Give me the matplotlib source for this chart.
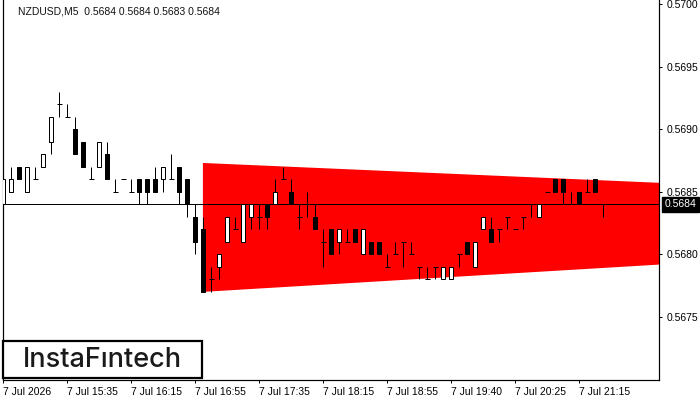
"""NZDUSD M5 candlestick chart with a red 'triangle' pattern zone (MT4 look)."""

import matplotlib
matplotlib.use("Agg")
import matplotlib.pyplot as plt
import numpy as np

# --- data (prices, 4 decimals) --------------------------------------------
opens = [0.5684, 0.5685, 0.5687, 0.5685, 0.5686, 0.5687, 0.5689, 0.5692, 0.5691, 0.5690,
         0.5689, 0.5686, 0.5687, 0.5688, 0.5685, 0.5686, 0.5685, 0.5686, 0.5686, 0.5686,
         0.5686, 0.5686, 0.5687, 0.5686, 0.5683, 0.5682, 0.5678, 0.5679, 0.5681, 0.5682,
         0.5681, 0.5683, 0.5683, 0.5684, 0.5684, 0.5686, 0.5685, 0.5683, 0.5684, 0.5683,
         0.5681, 0.5682, 0.5681, 0.5681, 0.5682, 0.5680, 0.5681, 0.5681, 0.5679, 0.5680,
         0.5681, 0.5680, 0.5679, 0.5678, 0.5679, 0.5678, 0.5678, 0.5680, 0.5681, 0.5679,
         0.5682, 0.5682, 0.5682, 0.5683, 0.5682, 0.5683, 0.5684, 0.5683, 0.5685, 0.5686,
         0.5686, 0.5684, 0.5685, 0.5685, 0.5686, 0.5684]
highs = [0.5687, 0.5687, 0.5687, 0.5687, 0.5687, 0.5688, 0.5691, 0.5693, 0.5692, 0.5691,
         0.5689, 0.5687, 0.5689, 0.5689, 0.5686, 0.5686, 0.5686, 0.5686, 0.5686, 0.5687,
         0.5687, 0.5688, 0.5687, 0.5686, 0.5684, 0.5683, 0.5679, 0.5680, 0.5683, 0.5683,
         0.5684, 0.5684, 0.5684, 0.5684, 0.5686, 0.5687, 0.5686, 0.5684, 0.5685, 0.5684,
         0.5682, 0.5682, 0.5682, 0.5682, 0.5682, 0.5682, 0.5681, 0.5681, 0.5680, 0.5681,
         0.5681, 0.5681, 0.5679, 0.5679, 0.5679, 0.5679, 0.5679, 0.5680, 0.5681, 0.5681,
         0.5683, 0.5683, 0.5682, 0.5683, 0.5682, 0.5683, 0.5684, 0.5684, 0.5685, 0.5686,
         0.5686, 0.5685, 0.5685, 0.5686, 0.5686, 0.5684]
lows = [0.5684, 0.5685, 0.5686, 0.5685, 0.5686, 0.5687, 0.5688, 0.5691, 0.5691, 0.5688,
        0.5687, 0.5686, 0.5687, 0.5686, 0.5685, 0.5686, 0.5685, 0.5684, 0.5684, 0.5685,
        0.5685, 0.5686, 0.5684, 0.5683, 0.5680, 0.5677, 0.5677, 0.5678, 0.5681, 0.5682,
        0.5681, 0.5682, 0.5682, 0.5682, 0.5684, 0.5686, 0.5684, 0.5682, 0.5683, 0.5682,
        0.5679, 0.5680, 0.5680, 0.5681, 0.5681, 0.5680, 0.5680, 0.5680, 0.5679, 0.5680,
        0.5679, 0.5680, 0.5678, 0.5678, 0.5678, 0.5678, 0.5678, 0.5679, 0.5680, 0.5679,
        0.5682, 0.5681, 0.5681, 0.5682, 0.5682, 0.5682, 0.5683, 0.5683, 0.5685, 0.5685,
        0.5684, 0.5684, 0.5684, 0.5685, 0.5685, 0.5683]
closes = [0.5686, 0.5686, 0.5686, 0.5687, 0.5686, 0.5688, 0.5691, 0.5692, 0.5691, 0.5688,
          0.5687, 0.5686, 0.5689, 0.5686, 0.5685, 0.5686, 0.5685, 0.5685, 0.5685, 0.5685,
          0.5687, 0.5686, 0.5685, 0.5684, 0.5681, 0.5677, 0.5678, 0.5680, 0.5683, 0.5682,
          0.5684, 0.5684, 0.5683, 0.5683, 0.5685, 0.5686, 0.5684, 0.5683, 0.5684, 0.5682,
          0.5681, 0.5680, 0.5682, 0.5681, 0.5681, 0.5682, 0.5680, 0.5680, 0.5679, 0.5680,
          0.5681, 0.5680, 0.5679, 0.5678, 0.5679, 0.5679, 0.5679, 0.5680, 0.5680, 0.5681,
          0.5683, 0.5681, 0.5682, 0.5683, 0.5682, 0.5683, 0.5684, 0.5684, 0.5685, 0.5685,
          0.5685, 0.5684, 0.5684, 0.5685, 0.5685, 0.5684]

tick_bars = [0, 8, 16, 24, 32, 40, 48, 56, 64, 72]
tick_labels = ["7 Jul 2026", "7 Jul 15:35", "7 Jul 16:15", "7 Jul 16:55", "7 Jul 17:35",
               "7 Jul 18:15", "7 Jul 18:55", "7 Jul 19:40", "7 Jul 20:25", "7 Jul 21:15"]
price_ticks = [0.5675, 0.5680, 0.5685, 0.5690, 0.5695, 0.5700]

# pattern zone: bar position, upper and lower boundary
pattern_x = [24.95, 82.5]
pattern_top = [0.56873, 0.56857]
pattern_bot = [0.56770, 0.56792]

last_price = 0.5684
header = "NZDUSD,M5  0.5684 0.5684 0.5683 0.5684"
logo = "InstaF\u0131ntech"

SMALL = ["Liberation Sans Narrow", "Liberation Sans", "DejaVu Sans"]
PX = 0.72  # one pixel in points at dpi 100

W, H = 700, 400
fig = plt.figure(figsize=(W / 100, H / 100), dpi=100, facecolor="white")
ax = fig.add_axes([2.5 / W, 20 / H, 656.3 / W, 380 / H])
ax.set_facecolor("white")

x = np.arange(len(opens))
o, h, l, c = map(np.array, (opens, highs, lows, closes))

# red pattern polygon
ax.fill([pattern_x[0], pattern_x[1], pattern_x[1], pattern_x[0]],
        [pattern_top[0], pattern_top[1], pattern_bot[1], pattern_bot[0]],
        color="#ff0000", lw=0, zorder=1)

# last price line
ax.axhline(last_price, color="black", lw=PX, zorder=2)

# candles: wicks, bodies, doji ticks
ax.vlines(x, l, h, color="black", lw=PX, zorder=3)
up = c > o
down = c < o
doji = c == o
bw = 0.5
ax.bar(x[up], (c - o)[up], bottom=o[up], width=bw, facecolor="white",
       edgecolor="black", lw=PX, zorder=4)
ax.bar(x[down], (o - c)[down], bottom=c[down], width=bw, facecolor="black",
       edgecolor="black", lw=PX, zorder=4)
ax.hlines(o[doji], x[doji] - 0.3, x[doji] + 0.3, color="black", lw=PX, zorder=4)

ax.set_xlim(-0.1, 81.94)
ax.set_ylim(0.566996, 0.570032)

# axes frame
ax.spines["top"].set_visible(False)
for s in ("left", "right", "bottom"):
    ax.spines[s].set_color("black")
    ax.spines[s].set_linewidth(PX * 1.2)

ax.yaxis.tick_right()
ax.set_yticks(price_ticks)
ax.set_yticklabels([f"{p:.4f}" for p in price_ticks], family=SMALL, fontsize=7.5)
ax.tick_params(axis="y", direction="out", length=2.5, width=PX, pad=3, colors="black")

ax.set_xticks(tick_bars)
ax.set_xticklabels(tick_labels, family=SMALL, fontsize=7.5, ha="left")
ax.tick_params(axis="x", direction="out", length=2.5, width=PX, pad=2.5, colors="black")

# last price tag on the right scale
ax.annotate(f"{last_price:.4f}", xy=(1.0, last_price), xycoords=ax.get_yaxis_transform(),
            xytext=(4, 0), textcoords="offset points", ha="left", va="center",
            family=SMALL, fontsize=7.5, color="white",
            bbox=dict(boxstyle="square,pad=0.25", fc="black", ec="black"),
            annotation_clip=False)

# header
fig.text(18 / W, 1 - 12 / H, header, family=SMALL, fontsize=7.5, color="#111111",
         ha="left", va="center")

# logo box
ax.add_patch(plt.Rectangle((2.5 / W, 1 - 378 / H), 199 / W, 37 / H, transform=fig.transFigure,
                           facecolor="white", edgecolor="black", lw=1.6, zorder=6,
                           clip_on=False))
fig.text(102 / W, 1 - 360 / H, logo, family=["Inter", "DejaVu Sans"], fontsize=19.5,
         fontweight="medium", color="#1a1a1a", ha="center", va="center", zorder=7)

fig.savefig("out.png", dpi=100, facecolor="white")
